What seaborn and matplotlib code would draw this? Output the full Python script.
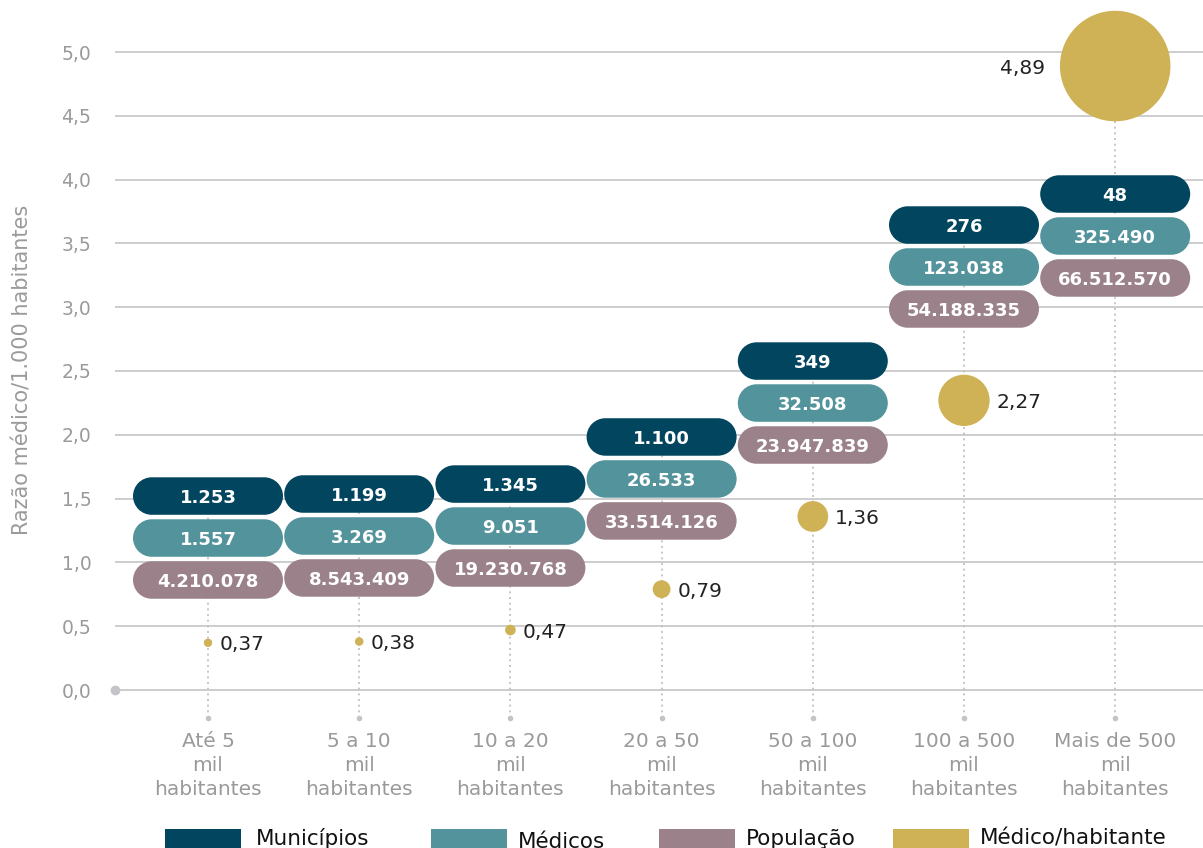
import matplotlib
matplotlib.use("Agg")
import matplotlib.pyplot as plt
import matplotlib.transforms as mtransforms
from matplotlib.patches import PathPatch, Rectangle
from matplotlib.path import Path
import numpy as np
import seaborn as sns
import pandas as pd

# ---------------- data ----------------
faixas = ["Até 5\nmil\nhabitantes", "5 a 10\nmil\nhabitantes", "10 a 20\nmil\nhabitantes",
          "20 a 50\nmil\nhabitantes", "50 a 100\nmil\nhabitantes", "100 a 500\nmil\nhabitantes",
          "Mais de 500\nmil\nhabitantes"]
municipios = ["1.253", "1.199", "1.345", "1.100", "349", "276", "48"]
medicos = ["1.557", "3.269", "9.051", "26.533", "32.508", "123.038", "325.490"]
populacao = ["4.210.078", "8.543.409", "19.230.768", "33.514.126", "23.947.839",
             "54.188.335", "66.512.570"]
razao = [0.37, 0.38, 0.47, 0.79, 1.36, 2.27, 4.89]
razao_txt = ["0,37", "0,38", "0,47", "0,79", "1,36", "2,27", "4,89"]
yticks = [0.0, 0.5, 1.0, 1.5, 2.0, 2.5, 3.0, 3.5, 4.0, 4.5, 5.0]
ytick_labels = ["0,0", "0,5", "1,0", "1,5", "2,0", "2,5", "3,0", "3,5", "4,0", "4,5", "5,0"]
legend_names = ["Municípios", "Médicos", "População", "Médico/habitante"]

# ---------------- layout (not data) ----------------
pill_top_y = [1.52, 1.536, 1.614, 1.983, 2.578, 3.644, 3.887]  # centre of first pill
pill_step = 0.329
C_MUN, C_MED, C_POP, C_GOLD = "#02455F", "#53939C", "#9B828A", "#CFB256"
GRID = "#C9C9C9"
TICKC = "#9A9A9A"

sns.set_theme(style="white")
plt.rcParams["font.family"] = ["DejaVu Sans"]

W, H = 1203, 848
fig = plt.figure(figsize=(W / 100, H / 100), dpi=100)
ax = fig.add_axes([115 / W, (H - 718) / H, (W - 115) / W, 718 / H])

px_x0, px_dx = 208, 151.2
xmin = (115 - px_x0) / px_dx
xmax = (W - px_x0) / px_dx
y0px, unit = 690, 127.6
ymin = (y0px - 718) / unit
ymax = y0px / unit

df = pd.DataFrame({"faixa": faixas, "razao": razao})
sizes = [(2 * 11.3 * v * 0.72) ** 2 for v in razao]
sns.scatterplot(data=df, x="faixa", y="razao", s=sizes, color=C_GOLD,
                linewidth=0, ax=ax, zorder=4, legend=False)

ax.set_xlim(xmin, xmax)
ax.set_ylim(ymin, ymax)
for sp in ax.spines.values():
    sp.set_visible(False)

ax.set_yticks(yticks)
ax.set_yticklabels(ytick_labels, fontsize=13.5, color=TICKC)
ax.yaxis.grid(True, color=GRID, lw=1.3, zorder=0)
ax.set_axisbelow(True)
ax.tick_params(axis="y", length=0, pad=17)
ax.tick_params(axis="x", length=0, pad=10)
ax.set_xticks(range(len(faixas)))
ax.set_xticklabels(faixas, fontsize=14.5, color=TICKC, linespacing=1.33)
ax.set_xlabel("")
ax.set_ylabel("Razão médico/1.000 habitantes", fontsize=15, color=TICKC)
ax.yaxis.set_label_coords((33 - 115) / (W - 115), (718 - 370) / 718)

# zero-line dot
ax.plot([xmin], [0], "o", color="#C3C3C8", ms=6, clip_on=False, zorder=3)

# dotted guide lines and bottom dots
for i, v in enumerate(razao):
    top = max(v, pill_top_y[i])
    ax.vlines(i, ymin, top, colors="#BDBDBD", linestyles=(0, (1.2, 2.2)), lw=1.2, zorder=1)
ax.scatter(range(len(faixas)), [ymin] * len(faixas), s=16, color="#C3C3C8",
           clip_on=False, zorder=3, linewidth=0)

# pills (stadium shapes with true semicircular ends, sized in inches)
pw, ph = 1.50, 0.375
r = ph / 2
left = Path.arc(90, 270)
right = Path.arc(-90, 90)
verts = np.concatenate([left.vertices * r + [-pw / 2 + r, 0],
                        right.vertices * r + [pw / 2 - r, 0],
                        [[0, 0]]])
codes = np.concatenate([left.codes, right.codes, [Path.CLOSEPOLY]])
codes[len(left.codes)] = Path.LINETO
PILL = Path(verts, codes)

def pill(x, y, txt, color):
    tr = fig.dpi_scale_trans + mtransforms.ScaledTranslation(x, y, ax.transData)
    ax.add_patch(PathPatch(PILL, transform=tr, facecolor=color, edgecolor="none", zorder=5))
    ax.text(x, y, txt, ha="center", va="center_baseline", color="white",
            fontsize=13, fontweight="bold", zorder=6)

for i in range(len(faixas)):
    yc = pill_top_y[i]
    pill(i, yc, municipios[i], C_MUN)
    pill(i, yc - pill_step, medicos[i], C_MED)
    pill(i, yc - 2 * pill_step, populacao[i], C_POP)

# bubble labels
for i, (v, t) in enumerate(zip(razao, razao_txt)):
    r_pt = 11.3 * v * 0.72
    if i == len(razao) - 1:
        ax.annotate(t, (i, v), xytext=(-(r_pt + 11), 0), textcoords="offset points",
                    ha="right", va="center_baseline", fontsize=14.5, color="#222222", zorder=6)
    else:
        ax.annotate(t, (i, v), xytext=(r_pt + 5, 0), textcoords="offset points",
                    ha="left", va="center_baseline", fontsize=14.5, color="#222222", zorder=6)

# legend (manual, at bottom edge)
leg = [(165, 256, 845, C_MUN), (431, 518, 848, C_MED), (659, 746, 845, C_POP), (893, 980, 845, C_GOLD)]
for (rx, tx, base, col), name in zip(leg, legend_names):
    fig.add_artist(Rectangle((rx / W, (H - 856) / H), 76 / W, 27 / H,
                             transform=fig.transFigure, facecolor=col, edgecolor="none"))
    fig.text(tx / W, (H - base) / H, name, ha="left", va="baseline", fontsize=15.5, color="#111111")

fig.savefig("out.png", dpi=100)
